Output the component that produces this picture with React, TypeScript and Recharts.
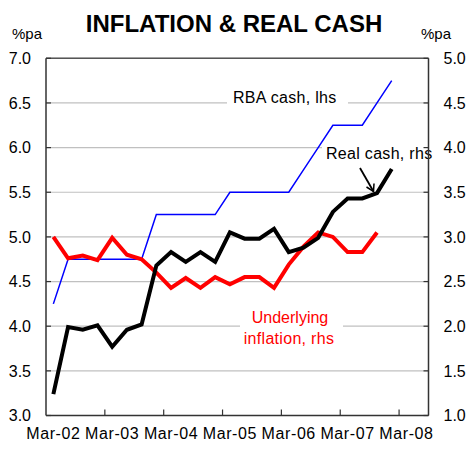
import { LineChart, Line, XAxis, YAxis, CartesianGrid, ReferenceLine, Customized } from "recharts";

const quarters = [
  "Mar-02", "Jun-02", "Sep-02", "Dec-02",
  "Mar-03", "Jun-03", "Sep-03", "Dec-03",
  "Mar-04", "Jun-04", "Sep-04", "Dec-04",
  "Mar-05", "Jun-05", "Sep-05", "Dec-05",
  "Mar-06", "Jun-06", "Sep-06", "Dec-06",
  "Mar-07", "Jun-07", "Sep-07", "Dec-07",
  "Mar-08", "Jun-08",
];

// lhs, %pa
const rbaCash = [
  4.25, 4.75, 4.75, 4.75, 4.75, 4.75, 4.75, 5.25, 5.25, 5.25, 5.25, 5.25, 5.5,
  5.5, 5.5, 5.5, 5.5, 5.75, 6.0, 6.25, 6.25, 6.25, 6.5, 6.75, null, null,
];
// rhs, %pa
const realCash = [
  1.24, 1.99, 1.96, 2.01, 1.77, 1.96, 2.02, 2.68, 2.83, 2.72, 2.83, 2.72, 3.05,
  2.98, 2.98, 3.09, 2.83, 2.88, 2.99, 3.28, 3.43, 3.43, 3.49, 3.76, null, null,
];
const underlying = [
  3.0, 2.76, 2.79, 2.74, 2.99, 2.8, 2.75, 2.6, 2.43, 2.54, 2.43, 2.55, 2.47,
  2.55, 2.55, 2.43, 2.69, 2.89, 3.05, 3.0, 2.83, 2.83, 3.05, null, null, null,
];

const leftTicks = [3, 3.5, 4, 4.5, 5, 5.5, 6, 6.5, 7];
const rightTicks = [1, 1.5, 2, 2.5, 3, 3.5, 4, 4.5, 5];
const labelIdx = [0, 4, 8, 12, 16, 20, 24];
const yearBreaks = [3.5, 7.5, 11.5, 15.5, 19.5, 23.5];

const data = quarters.map((q, i) => ({
  i,
  q,
  rba: rbaCash[i],
  real: realCash[i],
  underlying: underlying[i],
}));

const FONT = "'Liberation Sans', Arial, sans-serif";
const AXIS = "#333";

const XTick = (props: any) => {
  const { x, y, payload } = props;
  const v = payload.value;
  if (Number.isInteger(v)) {
    return (
      <text x={x} y={y + 23} textAnchor="middle" fontSize={16} fontFamily={FONT} fill="#000" letterSpacing={0.6}>
        {quarters[v]}
      </text>
    );
  }
  return <line x1={x} x2={x} y1={y} y2={y - 6} stroke={AXIS} strokeWidth={1.2} />;
};

const LeftTick = (props: any) => {
  const { x, y, payload } = props;
  return (
    <g>
      <line x1={x} x2={x + 5} y1={y} y2={y} stroke={AXIS} strokeWidth={1.2} />
      <text x={x - 15} y={y} dy="0.36em" textAnchor="end" fontSize={16} fontFamily={FONT} fill="#000">
        {payload.value.toFixed(1)}
      </text>
    </g>
  );
};

const RightTick = (props: any) => {
  const { x, y, payload } = props;
  return (
    <g>
      <line x1={x - 5} x2={x} y1={y} y2={y} stroke={AXIS} strokeWidth={1.2} />
      <text x={x + 15} y={y} dy="0.36em" textAnchor="start" fontSize={16} fontFamily={FONT} fill="#000">
        {payload.value.toFixed(1)}
      </text>
    </g>
  );
};

const Annotations = () => (
  <g fontFamily={FONT} fontSize={16}>
    <text x={234} y={31.5} textAnchor="middle" fontSize={24} fontWeight="bold" fill="#000">
      INFLATION &amp; REAL CASH
    </text>
    <text x={12} y={39} fontSize={15} fill="#000">%pa</text>
    <text x={421} y={39} fontSize={15} fill="#000">%pa</text>

    <rect x={227} y={88} width={121} height={18} fill="#fff" />
    <text x={233} y={102.5} fill="#000" letterSpacing={0.3}>RBA cash, lhs</text>

    <rect x={322} y={141} width={114} height={27} fill="#fff" />
    <text x={326} y={159} fill="#000" letterSpacing={0.3}>Real cash, rhs</text>
    <line x1={360} y1={168} x2={373.5} y2={191.5} stroke="#000" strokeWidth={1.8} />
    <polyline points="366.5,187 373.5,191.5 374,183.5" fill="none" stroke="#000" strokeWidth={1.5} />

    <rect x={240} y={306} width={103} height={44} fill="#fff" />
    <text x={290} y={323} textAnchor="middle" fill="#ff0000">Underlying</text>
    <text x={289} y={344} textAnchor="middle" fill="#ff0000" letterSpacing={0.3}>inflation, rhs</text>
  </g>
);

export default function App() {
  return (
    <div style={{ position: "absolute", left: 0, top: 0, width: 469, height: 451, background: "#fff" }}>
      <LineChart width={469} height={451} data={data} margin={{ top: 58.3, right: 0, bottom: 0, left: 0 }}>
        <CartesianGrid yAxisId="left" horizontal vertical={false} stroke="#c0c0c0" strokeWidth={1.2} />
        <XAxis
          type="number"
          dataKey="i"
          domain={[-0.5, 25.5]}
          ticks={[...labelIdx, ...yearBreaks].sort((a, b) => a - b)}
          interval={0}
          tick={<XTick />}
          tickLine={false}
          tickSize={0}
          tickMargin={0}
          height={35.5}
          axisLine={{ stroke: AXIS, strokeWidth: 1.5 }}
          allowDataOverflow
        />
        <YAxis
          yAxisId="left"
          domain={[3, 7]}
          ticks={leftTicks}
          interval={0}
          tick={<LeftTick />}
          tickLine={false}
          tickSize={0}
          tickMargin={0}
          width={46}
          axisLine={{ stroke: AXIS, strokeWidth: 1.5 }}
          allowDataOverflow
        />
        <YAxis
          yAxisId="right"
          orientation="right"
          domain={[1, 5]}
          ticks={rightTicks}
          interval={0}
          tick={<RightTick />}
          tickLine={false}
          tickSize={0}
          tickMargin={0}
          width={40.5}
          axisLine={{ stroke: AXIS, strokeWidth: 1.5 }}
          allowDataOverflow
        />
        <ReferenceLine yAxisId="left" y={7} stroke="#555" strokeWidth={1.5} />
        <Line yAxisId="left" dataKey="rba" stroke="#0000ff" strokeWidth={1.5} dot={false} isAnimationActive={false} type="linear" />
        <Line yAxisId="right" dataKey="underlying" stroke="#ff0000" strokeWidth={4} dot={false} isAnimationActive={false} type="linear" strokeLinejoin="miter" />
        <Line yAxisId="right" dataKey="real" stroke="#000000" strokeWidth={4} dot={false} isAnimationActive={false} type="linear" strokeLinejoin="miter" />
        <Customized component={Annotations} />
      </LineChart>
    </div>
  );
}
